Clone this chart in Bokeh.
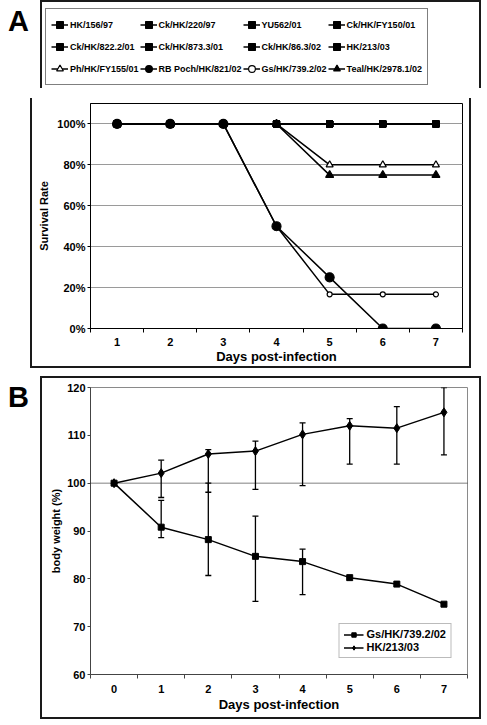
from bokeh.plotting import figure
from bokeh.layouts import column, row
from bokeh.models import (Range1d, FixedTicker, NumeralTickFormatter, Legend, LegendItem,
                          Span, Whisker, ColumnDataSource, TeeHead, Div, Spacer)
from bokeh.embed import file_html
from bokeh.resources import INLINE

# ---------------- Panel A data: survival rate ----------------
days_a = [1, 2, 3, 4, 5, 6, 7]
survival_ticks = [0.0, 0.2, 0.4, 0.6, 0.8, 1.0]
strains_a = ["HK/156/97", "Ck/HK/220/97", "YU562/01", "Ck/HK/FY150/01",
             "Ck/HK/822.2/01", "Ck/HK/873.3/01", "Ck/HK/86.3/02", "HK/213/03",
             "Ph/HK/FY155/01", "RB Poch/HK/821/02", "Gs/HK/739.2/02", "Teal/HK/2978.1/02"]
surv_hk156_97 = [1.0, 1.0, 1.0, 1.0, 1.0, 1.0, 1.0]
surv_ck220_97 = [1.0, 1.0, 1.0, 1.0, 1.0, 1.0, 1.0]
surv_yu562_01 = [1.0, 1.0, 1.0, 1.0, 1.0, 1.0, 1.0]
surv_ckfy150_01 = [1.0, 1.0, 1.0, 1.0, 1.0, 1.0, 1.0]
surv_ck822_01 = [1.0, 1.0, 1.0, 1.0, 1.0, 1.0, 1.0]
surv_ck873_01 = [1.0, 1.0, 1.0, 1.0, 1.0, 1.0, 1.0]
surv_ck86_02 = [1.0, 1.0, 1.0, 1.0, 1.0, 1.0, 1.0]
surv_hk213_03 = [1.0, 1.0, 1.0, 1.0, 1.0, 1.0, 1.0]
surv_phfy155_01 = [1.0, 1.0, 1.0, 1.0, 0.80, 0.80, 0.80]
surv_rbpoch_02 = [1.0, 1.0, 1.0, 0.50, 0.25, 0.0, 0.0]
surv_gs739_02 = [1.0, 1.0, 1.0, 0.50, 0.167, 0.167, 0.167]
surv_teal2978_02 = [1.0, 1.0, 1.0, 1.0, 0.75, 0.75, 0.75]

# ---------------- Panel B data: body weight ----------------
days_b = [0, 1, 2, 3, 4, 5, 6, 7]
weight_ticks = [60, 70, 80, 90, 100, 110, 120]
baseline_weight = 100
strains_b = ["Gs/HK/739.2/02", "HK/213/03"]
bw_gs739 = [100.0, 90.8, 88.2, 84.7, 83.6, 80.25, 78.9, 74.7]
bw_gs739_low = [None, 88.6, 80.7, 75.3, 76.7, None, None, None]
bw_gs739_high = [None, 96.4, 100.0, 93.1, 86.2, None, None, None]
bw_hk213 = [100.0, 102.1, 106.1, 106.7, 110.2, 112.0, 111.5, 114.8]
bw_hk213_low = [None, 97.0, 98.1, 98.7, 99.5, 104.0, 104.0, 105.9]
bw_hk213_high = [None, 104.8, 107.0, 108.8, 112.6, 113.5, 116.0, 120.0]

panel_letters = ["A", "B"]

FONT = "Liberation Sans"
EDGE = "#1a1a1a"

surv_series = [surv_hk156_97, surv_ck220_97, surv_yu562_01, surv_ckfy150_01,
               surv_ck822_01, surv_ck873_01, surv_ck86_02, surv_hk213_03,
               surv_phfy155_01, surv_rbpoch_02, surv_gs739_02, surv_teal2978_02]

SQ = dict(marker="square", size=6, fill_color="black")
styles_a = [SQ] * 8 + [
    dict(marker="triangle", size=7, fill_color="white"),
    dict(marker="circle", size=9, fill_color="black"),
    dict(marker="circle", size=5, fill_color="white"),
    dict(marker="triangle", size=8, fill_color="black"),
]


def style_axis(ax, tick_size, label_size):
    ax.major_label_text_font = FONT
    ax.major_label_text_font_style = "bold"
    ax.major_label_text_font_size = tick_size
    ax.major_label_text_color = "black"
    ax.axis_label_text_font = FONT
    ax.axis_label_text_font_style = "bold"
    ax.axis_label_text_font_size = label_size
    ax.axis_label_text_color = "black"


def letter_div(text, pad_top, height):
    return Div(text=text, width=30, height=height,
               styles={"font-family": FONT, "font-weight": "bold", "font-size": "29px",
                       "padding-top": f"{pad_top}px", "padding-left": "3px",
                       "line-height": "1", "color": "black"})


def transparent(fig):
    fig.border_fill_color = None
    fig.background_fill_color = None


def add_survival_series(fig, order):
    rends = {}
    for i in order:
        st = styles_a[i]
        ln = fig.line(days_a, surv_series[i], line_color="black", line_width=1.5)
        sc = fig.scatter(days_a, surv_series[i], marker=st["marker"], size=st["size"],
                         fill_color=st["fill_color"], line_color="black", line_width=1.2)
        rends[i] = [ln, sc]
    return rends


# ======================= Panel A: legend strip =======================
pLeg = figure(width=441, height=88, x_range=Range1d(100, 101), y_range=Range1d(100, 101),
              output_backend="svg", toolbar_location=None,
              x_axis_location=None, y_axis_location=None,
              min_border_left=0, min_border_right=0, min_border_top=0, min_border_bottom=0)
transparent(pLeg)
pLeg.styles = {"box-shadow": f"inset 2px 2px 0 0 {EDGE}, inset -2px 0 0 0 {EDGE}"}
pLeg.outline_line_color = None
pLeg.xgrid.visible = False
pLeg.ygrid.visible = False
leg_rends = add_survival_series(pLeg, list(range(12)))

legA = Legend(items=[LegendItem(label=strains_a[i], renderers=leg_rends[i]) for i in range(12)],
              orientation="horizontal", ncols=4, location=(5, 3))
legA.label_text_font = FONT
legA.label_text_font_style = "bold"
legA.label_text_font_size = "9px"
legA.label_text_color = "black"
legA.glyph_width = 17
legA.glyph_height = 21
legA.label_height = 21
legA.label_standoff = 2
legA.spacing = 1
legA.padding = 5
legA.margin = 0
legA.border_line_color = "black"
legA.border_line_width = 1.5
legA.background_fill_color = "white"
legA.background_fill_alpha = 1
pLeg.add_layout(legA, "center")

# ======================= Panel A: survival plot =======================
pA = figure(width=441, height=270, x_range=Range1d(0.5, 7.5), y_range=Range1d(0, 1.10),
            output_backend="svg", toolbar_location=None,
            min_border_left=60, min_border_right=9, min_border_top=5, min_border_bottom=40)
transparent(pA)
pA.styles = {"box-shadow": f"inset 2px -2px 0 0 {EDGE}, inset -2px 0 0 0 {EDGE}"}
pA.outline_line_color = "black"
pA.outline_line_width = 1
pA.xgrid.visible = False
pA.ygrid.ticker = FixedTicker(ticks=survival_ticks)
pA.ygrid.grid_line_color = "#9a9a9a"
pA.ygrid.grid_line_width = 1

xa = pA.xaxis[0]
xa.ticker = FixedTicker(ticks=days_a, minor_ticks=[d - 0.5 for d in days_a] + [days_a[-1] + 0.5])
xa.major_tick_line_color = None
xa.major_tick_out = 0
xa.minor_tick_out = 4
xa.minor_tick_in = 0
xa.minor_tick_line_color = "black"
xa.axis_line_color = "black"
xa.major_label_standoff = 5
xa.axis_label = "Days post-infection"
xa.axis_label_standoff = 0
style_axis(xa, "11px", "13px")

ya = pA.yaxis[0]
ya.ticker = FixedTicker(ticks=survival_ticks)
ya.formatter = NumeralTickFormatter(format="0%")
ya.major_tick_out = 3
ya.major_tick_in = 0
ya.minor_tick_line_color = None
ya.axis_line_color = "black"
ya.major_label_standoff = 2
ya.axis_label = "Survival Rate"
ya.axis_label_standoff = 4
style_axis(ya, "11px", "11px")

draw_order = [8, 11, 0, 1, 2, 3, 4, 5, 6, 7, 10, 9]
add_survival_series(pA, draw_order)

# ======================= Panel B =======================
pB = figure(width=441, height=343, x_range=Range1d(-0.5, 7.5), y_range=Range1d(60, 120),
            output_backend="svg", toolbar_location=None,
            min_border_left=50, min_border_right=14, min_border_top=11, min_border_bottom=45)
transparent(pB)
pB.styles = {"outline": f"2px solid {EDGE}", "outline-offset": "-2px"}
pB.outline_line_color = "#8a8a8a"
pB.outline_line_width = 1
pB.xgrid.visible = False
pB.ygrid.visible = False

xb = pB.xaxis[0]
xb.ticker = FixedTicker(ticks=days_b, minor_ticks=[d - 0.5 for d in days_b] + [days_b[-1] + 0.5])
xb.major_tick_line_color = None
xb.major_tick_out = 0
xb.minor_tick_out = 4
xb.minor_tick_in = 0
xb.minor_tick_line_color = "#444444"
xb.axis_line_color = "#444444"
xb.major_label_standoff = 6
xb.axis_label = "Days post-infection"
xb.axis_label_standoff = 1
style_axis(xb, "11px", "13px")

yb = pB.yaxis[0]
yb.ticker = FixedTicker(ticks=weight_ticks)
yb.major_tick_out = 3
yb.major_tick_in = 0
yb.major_tick_line_color = "#444444"
yb.minor_tick_line_color = None
yb.axis_line_color = "#444444"
yb.major_label_standoff = 2
yb.axis_label = "body weight (%)"
yb.axis_label_standoff = 2
style_axis(yb, "11px", "11px")

pB.add_layout(Span(location=baseline_weight, dimension="width", line_color="black",
                   line_width=1, line_dash="1 1"))


def whisker_source(xs, lows, highs):
    keep = [k for k in range(len(xs)) if lows[k] is not None]
    return ColumnDataSource(dict(x=[xs[k] for k in keep], lower=[lows[k] for k in keep],
                                 upper=[highs[k] for k in keep]))


for lows, highs in [(bw_hk213_low, bw_hk213_high), (bw_gs739_low, bw_gs739_high)]:
    pB.add_layout(Whisker(source=whisker_source(days_b, lows, highs), base="x",
                          lower="lower", upper="upper", dimension="height",
                          line_color="black", line_width=1.3,
                          upper_head=TeeHead(size=6, line_color="black", line_width=1.3),
                          lower_head=TeeHead(size=6, line_color="black", line_width=1.3)))

l1 = pB.line(days_b, bw_gs739, line_color="black", line_width=1.5)
s1 = pB.scatter(days_b, bw_gs739, marker="square", size=6, fill_color="black", line_color="black")
l2 = pB.line(days_b, bw_hk213, line_color="black", line_width=1.5)
s2 = pB.scatter(days_b, bw_hk213, marker="diamond", size=9, fill_color="black", line_color="black")

legB = Legend(items=[LegendItem(label=strains_b[0], renderers=[l1, s1]),
                     LegendItem(label=strains_b[1], renderers=[l2, s2])],
              location="bottom_right")
legB.label_text_font = FONT
legB.label_text_font_style = "bold"
legB.label_text_font_size = "11px"
legB.label_text_color = "black"
legB.glyph_width = 20
legB.glyph_height = 11
legB.label_height = 11
legB.label_standoff = 3
legB.spacing = 1
legB.padding = 4
legB.margin = 16
legB.border_line_color = "#777777"
legB.border_line_width = 1
legB.background_fill_color = "white"
pB.add_layout(legB, "center")

layout = column(row(letter_div(panel_letters[0], 2, 88), pLeg),
                row(Spacer(width=30, height=270), pA),
                Spacer(width=471, height=8),
                row(letter_div(panel_letters[1], 2, 343), pB),
                spacing=0)
open("out.html", "w").write(file_html(layout, INLINE))
